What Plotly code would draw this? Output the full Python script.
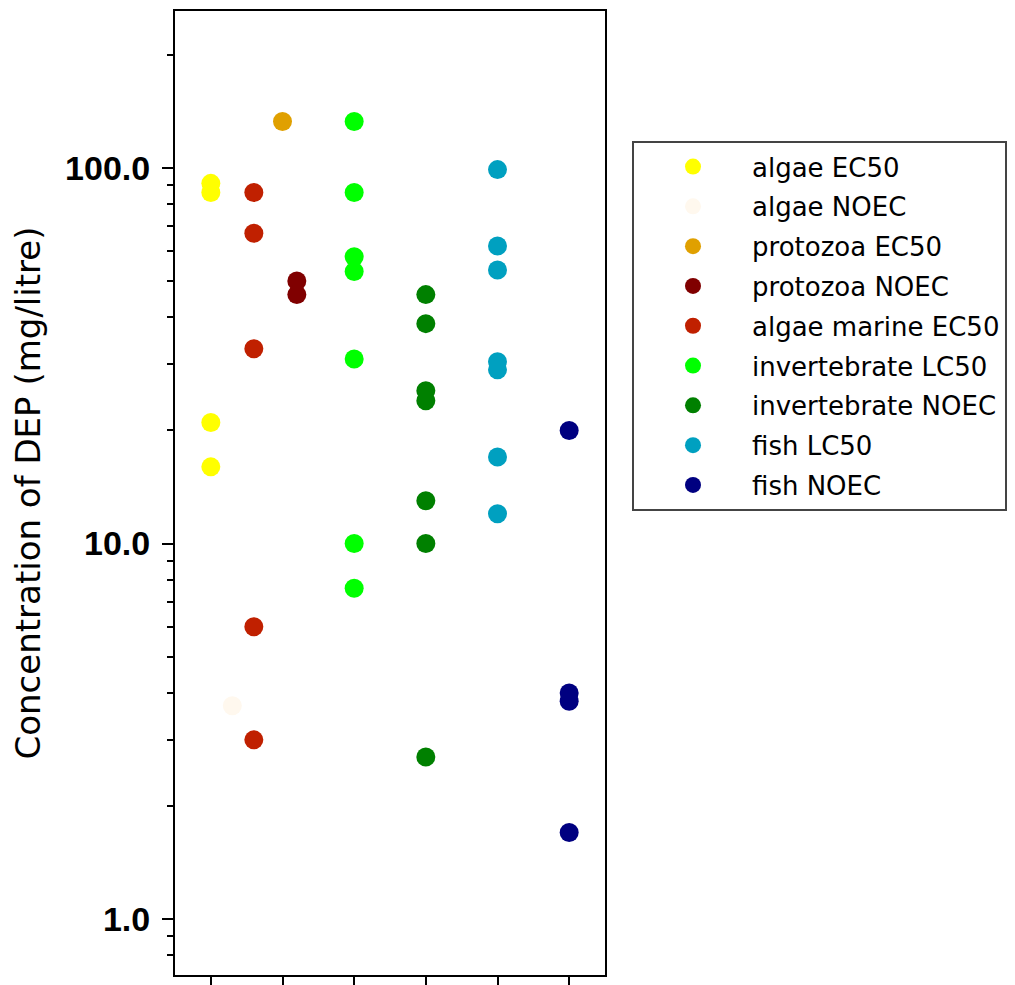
import plotly.graph_objects as go

# ---- data ----
series_names = ["algae EC50", "algae NOEC", "protozoa EC50", "protozoa NOEC",
                "algae marine EC50", "invertebrate LC50", "invertebrate NOEC",
                "fish LC50", "fish NOEC"]
series_colors = ["#FFFF00", "#FFF8EE", "#E0A000", "#800000",
                 "#C02000", "#00FF00", "#008000", "#00A0C0", "#000080"]
# x column of each series on the (unlabelled) category axis
series_x = [1.0, 1.3, 2.0, 2.2, 1.6, 3.0, 4.0, 5.0, 6.0]

algae_ec50 = [91, 86, 21, 16]
algae_noec = [3.7]
protozoa_ec50 = [133]
protozoa_noec = [50, 46]
algae_marine_ec50 = [86, 67, 33, 6.0, 3.0]
invertebrate_lc50 = [133, 86, 58, 53, 31, 10, 7.6]
invertebrate_noec = [46, 38.5, 25.5, 24, 13, 10, 2.7]
fish_lc50 = [99, 62, 53.5, 30.5, 29, 17, 12]
fish_noec = [20, 4.0, 3.8, 1.7]

series_values = [algae_ec50, algae_noec, protozoa_ec50, protozoa_noec,
                 algae_marine_ec50, invertebrate_lc50, invertebrate_noec,
                 fish_lc50, fish_noec]

y_tickvals = [1, 10, 100]
y_ticktext = ["1.0", "10.0", "100.0"]
x_tickvals = [1, 2, 3, 4, 5, 6]

fig = go.Figure()
for i, (name, color, xpos, vals) in enumerate(zip(series_names, series_colors, series_x, series_values)):
    fig.add_trace(go.Scatter(
        x=[xpos] * len(vals), y=vals, mode="markers", name=name,
        legendgroup=f"g{i}",
        marker=dict(color=color, size=19, line=dict(width=0)),
    ))

# page body adds an 8px offset, so the figure is sized to fill the remaining window
fig.update_layout(
    width=1007, height=977,
    margin=dict(l=167, r=410, t=3, b=10),
    plot_bgcolor="white", paper_bgcolor="white",
    showlegend=True,
    legend=dict(
        x=1.0628, y=0.865, xanchor="left", yanchor="top",
        font=dict(family="DejaVu Sans", size=26, color="black"),
        bgcolor="white", bordercolor="#444444", borderwidth=2,
        itemwidth=108, tracegroupgap=3, traceorder="grouped",
    ),
)

fig.update_xaxes(
    range=[0.5, 6.5], tickvals=x_tickvals, showticklabels=False,
    ticks="outside", ticklen=9, tickwidth=2, tickcolor="black",
    showline=True, linewidth=2, linecolor="black", mirror=True,
    showgrid=False, zeroline=False, automargin=False,
)
fig.update_yaxes(
    type="log", range=[-0.149, 2.418],
    tickvals=y_tickvals, ticktext=y_ticktext,
    ticks="outside", ticklen=11, tickwidth=2, tickcolor="black",
    ticklabelstandoff=5,
    tickfont=dict(family="Liberation Sans", size=34, color="black", weight="bold"),
    minor=dict(ticks="outside", ticklen=6, tickwidth=1.5, tickcolor="black",
               dtick="D1", showgrid=False),
    showline=True, linewidth=2, linecolor="black", mirror=True,
    showgrid=False, zeroline=False, automargin=False,
    title=dict(text="Concentration of DEP (mg/litre)", standoff=18,
               font=dict(family="DejaVu Sans", size=34, color="black")),
)

fig.write_html("out.html")
